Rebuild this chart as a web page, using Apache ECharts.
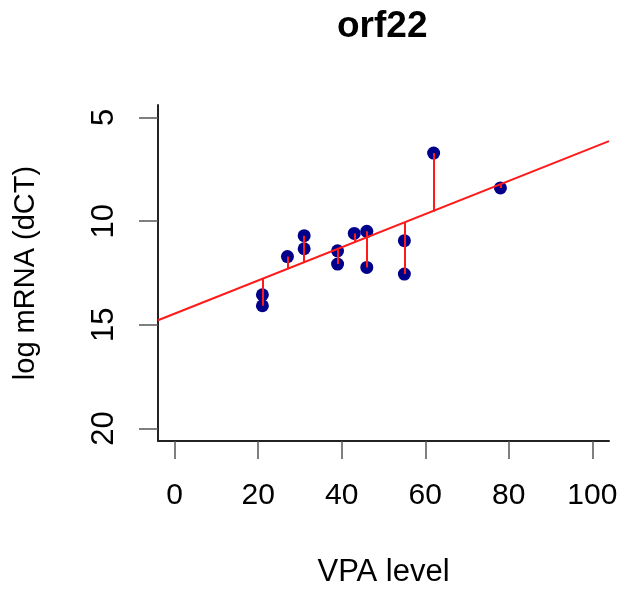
<!DOCTYPE html>
<html>
<head>
<meta charset="utf-8">
<script src="https://cdn.jsdelivr.net/npm/echarts@6/dist/echarts.min.js"></script>
<style>
  html, body { margin: 0; padding: 0; background: #fff; }
  #main { width: 621px; height: 597px; }
</style>
</head>
<body>
<div id="main"></div>
<script>
var vpa = [21, 21, 27, 31, 31, 39, 39, 43, 46, 46, 55, 55, 62, 78];
var dct = [13.55, 14.08, 11.71, 10.70, 11.33, 11.43, 12.07, 10.59, 10.49, 12.23, 10.94, 12.55, 6.72, 8.40];
// fitted value on the red line at each point (top/bottom of the residual segment)
var fitted = [12.80, 12.80, 12.32, 12.00, 12.00, 11.36, 11.36, 11.02, 10.80, 10.80, 10.09, 10.09, 9.53, 8.25];
// regression line end points
var lineX = [-4, 104];
var lineY = [14.78, 6.14];
var xTicks = [0, 20, 40, 60, 80, 100];
var yTicks = [5, 10, 15, 20];

var font = "'Liberation Sans', Arial, sans-serif";
var chart = echarts.init(document.getElementById("main"));

var points = vpa.map(function (x, i) { return [x, dct[i]]; });
var segs = vpa.map(function (x, i) { return { coords: [[x, dct[i]], [x, fitted[i]]] }; });
var regLine = lineX.map(function (x, i) { return [x, lineY[i]]; });

var option = {
  animation: false,
  backgroundColor: "#fff",
  title: {
    text: "orf22",
    left: 332,
    top: 3,
    textStyle: { fontFamily: font, fontSize: 37, fontWeight: "bold", color: "#000" }
  },
  grid: { left: 158, right: 12, top: 105, bottom: 156 },
  xAxis: {
    type: "value",
    min: -4,
    max: 104,
    name: "VPA level",
    nameLocation: "middle",
    nameGap: 116,
    nameTextStyle: { fontFamily: font, fontSize: 31, color: "#000" },
    splitLine: { show: false },
    axisLine: { onZero: false, lineStyle: { color: "#222", width: 2 } },
    axisTick: { customValues: xTicks, length: 18, lineStyle: { color: "#555", width: 1.5 } },
    axisLabel: { customValues: xTicks, margin: 40, fontFamily: font, fontSize: 30, color: "#000" }
  },
  yAxis: {
    type: "value",
    inverse: true,
    min: 4.4,
    max: 20.6,
    name: "log mRNA (dCT)",
    nameLocation: "middle",
    nameRotate: 90,
    nameGap: 118,
    nameTextStyle: { fontFamily: font, fontSize: 29, color: "#000" },
    splitLine: { show: false },
    axisLine: { onZero: false, lineStyle: { color: "#222", width: 2 } },
    axisTick: { customValues: yTicks, length: 19, lineStyle: { color: "#555", width: 1.5 } },
    axisLabel: { customValues: yTicks, rotate: 90, margin: 38, fontFamily: font, fontSize: 31, color: "#000" }
  },
  series: [
    {
      type: "scatter",
      data: points,
      symbolSize: 13,
      itemStyle: { color: "#00008B", opacity: 1 },
      z: 2
    },
    {
      type: "line",
      data: regLine,
      symbol: "none",
      lineStyle: { color: "#ff1a1a", width: 2 },
      z: 3
    },
    {
      type: "lines",
      coordinateSystem: "cartesian2d",
      data: segs,
      lineStyle: { color: "#ff1a1a", width: 2, opacity: 1 },
      z: 3
    }
  ]
};

chart.setOption(option);
</script>
</body>
</html>
